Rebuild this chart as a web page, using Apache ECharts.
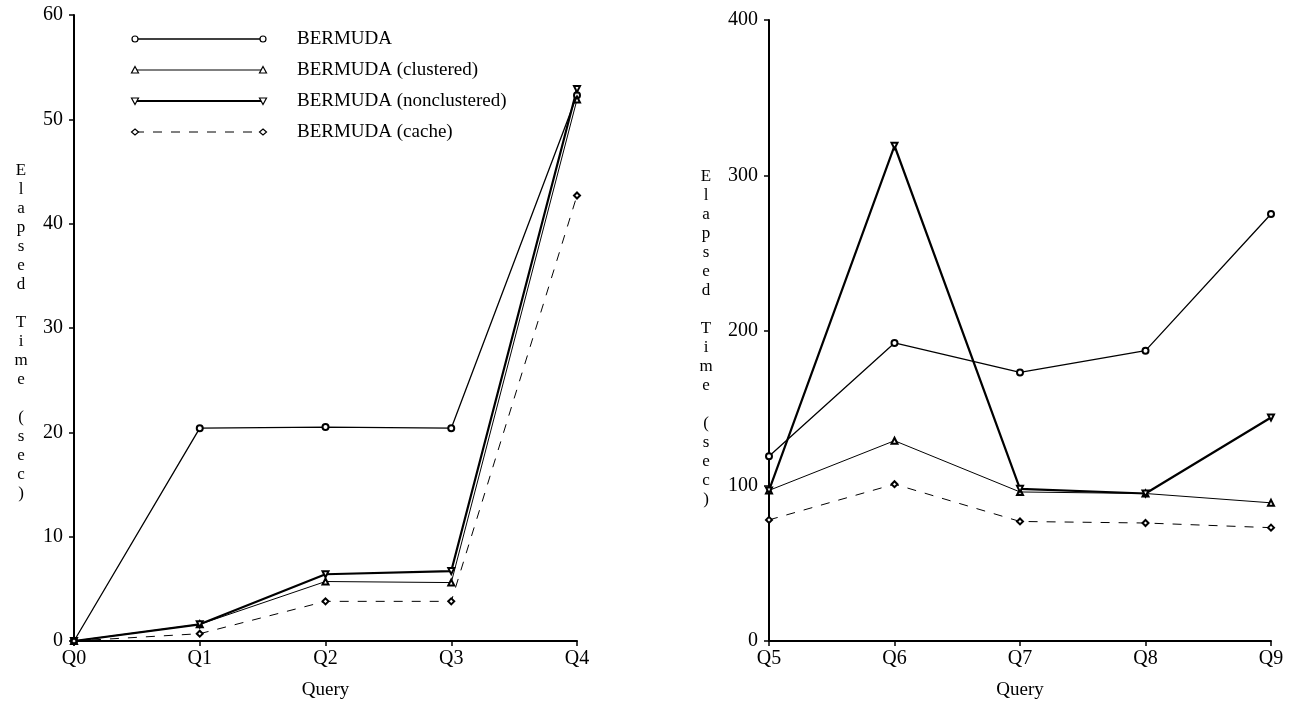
<!DOCTYPE html>
<html>
<head>
<meta charset="UTF-8">
<title>BERMUDA elapsed time</title>
<script src="https://cdn.jsdelivr.net/npm/echarts@6/dist/echarts.min.js"></script>
<style>
  html, body { margin: 0; padding: 0; background: #fff; }
  #main { width: 1294px; height: 708px; }
</style>
</head>
<body>
<div id="main"></div>
<script type="text/javascript">
// data
var queriesLeft = ['Q0', 'Q1', 'Q2', 'Q3', 'Q4'];
var queriesRight = ['Q5', 'Q6', 'Q7', 'Q8', 'Q9'];
var seriesNames = ['BERMUDA', 'BERMUDA (clustered)', 'BERMUDA (nonclustered)', 'BERMUDA (cache)'];

var bermudaLeft = [0, 20.4, 20.5, 20.4, 52.3];
var clusteredLeft = [0, 1.6, 5.7, 5.6, 51.9];
var nonclusteredLeft = [0, 1.6, 6.4, 6.7, 52.9];
var cacheLeft = [0, 0.7, 3.8, 3.8, 42.7];

var bermudaRight = [119, 192, 173, 187, 275];
var clusteredRight = [97, 129, 96, 95, 89];
var nonclusteredRight = [97, 319, 98, 95, 144];
var cacheRight = [78, 101, 77, 76, 73];

var yTicksLeft = [0, 60, 10];
var yTicksRight = [0, 400, 100];

var FONT = '"Liberation Serif", "DejaVu Serif", serif';

var myChart = echarts.init(document.getElementById('main'));

// look of each series: symbol, width, dash
var styles = [
    {symbol: 'emptyCircle', rotate: 0, width: 1.3, type: 'solid'},
    {symbol: 'emptyTriangle', rotate: 0, width: 1, type: 'solid'},
    {symbol: 'emptyTriangle', rotate: 180, width: 2.2, type: 'solid'},
    {symbol: 'emptyDiamond', rotate: 0, width: 1, type: [9, 9]}
];

function makeSeries(name, data, idx, s) {
    return {
        name: name,
        type: 'line',
        xAxisIndex: idx,
        yAxisIndex: idx,
        data: data,
        symbol: s.symbol,
        symbolRotate: s.rotate,
        symbolSize: 6,
        showAllSymbol: true,
        lineStyle: {color: '#000', width: s.width, type: s.type},
        itemStyle: {color: '#000', borderWidth: 1.2},
        animation: false
    };
}

var leftData = [bermudaLeft, clusteredLeft, nonclusteredLeft, cacheLeft];
var rightData = [bermudaRight, clusteredRight, nonclusteredRight, cacheRight];
var series = [];
seriesNames.forEach(function (n, i) {
    series.push(makeSeries(n, leftData[i], 0, styles[i]));
    series.push(makeSeries(n, rightData[i], 1, styles[i]));
});

function xAxisOf(cats, gridIndex) {
    return {
        type: 'category',
        gridIndex: gridIndex,
        data: cats,
        boundaryGap: false,
        name: 'Query',
        nameLocation: 'middle',
        nameGap: 40,
        nameTextStyle: {fontFamily: FONT, fontSize: 19, color: '#000'},
        axisLine: {lineStyle: {color: '#000', width: 2}},
        axisTick: {show: true, length: 5, lineStyle: {color: '#000', width: 1.5}},
        axisLabel: {fontFamily: FONT, fontSize: 20, color: '#000', margin: 8}
    };
}

function yAxisOf(t, gridIndex) {
    return {
        type: 'value',
        gridIndex: gridIndex,
        min: t[0],
        max: t[1],
        interval: t[2],
        splitLine: {show: false},
        axisLine: {show: true, lineStyle: {color: '#000', width: 2}},
        axisTick: {show: true, length: 5, lineStyle: {color: '#000', width: 1.5}},
        axisLabel: {fontFamily: FONT, fontSize: 20, color: '#000', margin: 11}
    };
}

// vertical stacked axis title
var yTitle = 'Elapsed Time (sec)'.split('').join('\n');

// legend drawn by hand: line with a symbol at each end
var legendGraphics = [];
var legendRows = [39, 70, 101, 132];
function endMark(i, x, y) {
    var st = {fill: '#fff', stroke: '#000', lineWidth: 1.2};
    if (i === 0) return {type: 'circle', shape: {cx: x, cy: y, r: 3}, style: st};
    if (i === 1) return {type: 'polygon', shape: {points: [[x, y - 3.5], [x + 3.5, y + 3], [x - 3.5, y + 3]]}, style: st};
    if (i === 2) return {type: 'polygon', shape: {points: [[x - 3.5, y - 3], [x + 3.5, y - 3], [x, y + 3.5]]}, style: st};
    return {type: 'polygon', shape: {points: [[x, y - 3], [x + 3.5, y], [x, y + 3], [x - 3.5, y]]}, style: st};
}
seriesNames.forEach(function (n, i) {
    var y = legendRows[i];
    legendGraphics.push({
        type: 'line',
        shape: {x1: 135, y1: y, x2: 263, y2: y},
        style: {stroke: '#000', lineWidth: styles[i].width, lineDash: i === 3 ? [9, 9] : null}
    });
    legendGraphics.push(endMark(i, 135, y));
    legendGraphics.push(endMark(i, 263, y));
    legendGraphics.push({
        type: 'text', x: 297, y: y,
        style: {text: n, font: '19px ' + FONT, fill: '#000', textVerticalAlign: 'middle'}
    });
});

var option = {
    backgroundColor: '#fff',
    animation: false,
    grid: [
        {left: 74, right: 717, top: 15, bottom: 67, containLabel: false, outerBoundsMode: 'none'},
        {left: 769, right: 23, top: 20, bottom: 67, containLabel: false, outerBoundsMode: 'none'}
    ],
    xAxis: [xAxisOf(queriesLeft, 0), xAxisOf(queriesRight, 1)],
    yAxis: [yAxisOf(yTicksLeft, 0), yAxisOf(yTicksRight, 1)],
    graphic: legendGraphics.concat([
        {type: 'text', x: 21, y: 161, style: {text: yTitle, font: '17px ' + FONT, fill: '#000', textAlign: 'center', lineHeight: 19}},
        {type: 'text', x: 706, y: 167, style: {text: yTitle, font: '17px ' + FONT, fill: '#000', textAlign: 'center', lineHeight: 19}}
    ]),
    series: series
};

myChart.setOption(option);
</script>
</body>
</html>
